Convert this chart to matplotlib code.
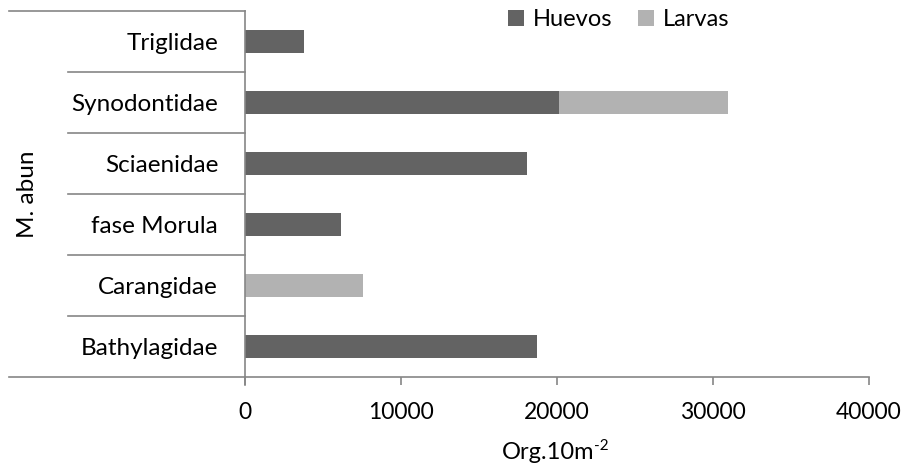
import matplotlib
matplotlib.use("Agg")
import matplotlib.pyplot as plt
from matplotlib.lines import Line2D
import numpy as np

categories = ["Bathylagidae", "Carangidae", "fase Morula", "Sciaenidae", "Synodontidae", "Triglidae"]
huevos = [18740, 0, 6160, 18100, 20150, 3800]
larvas = [0, 7570, 0, 0, 10830, 0]
xticks = [0, 10000, 20000, 30000, 40000]
group_label = "M. abun"

plt.rcParams['font.family'] = ['Lato', 'DejaVu Sans']

W, H = 905, 465
fig = plt.figure(figsize=(W / 100, H / 100), dpi=100)
x0, x1 = 244.5, 869
y_top, y_bot = 11, 377.3
ax = fig.add_axes([x0 / W, 1 - y_bot / H, (x1 - x0) / W, (y_bot - y_top) / H])

dark = "#636363"
light = "#b2b2b2"
axc = "#868686"
FS = 17.5

y = np.arange(len(categories))
ax.barh(y, huevos, height=0.38, color=dark, label="Huevos")
ax.barh(y, larvas, left=huevos, height=0.38, color=light, label="Larvas")

ax.set_xlim(0, 40000)
ax.set_ylim(-0.5, len(categories) - 0.5)
ax.set_xticks(xticks)
ax.set_xticklabels([str(v) for v in xticks], fontsize=16.5)
ax.set_yticks(y)
ax.set_yticklabels(categories, fontsize=FS)
ax.tick_params(axis='y', length=0, pad=19)
ax.tick_params(axis='x', length=5.8, width=1.2, color=axc, pad=12)

for s in ["top", "right"]:
    ax.spines[s].set_visible(False)
ax.spines["bottom"].set_visible(False)
ax.spines["left"].set_color(axc)
ax.spines["left"].set_linewidth(1.2)
ax.spines["left"].set_bounds(-0.5, len(categories) - 0.5)

def fx(px):
    return px / W

def fy(py):
    return 1 - py / H

# bottom axis line extended to the left
fig.add_artist(Line2D([fx(9), fx(x1)], [fy(y_bot), fy(y_bot)], color=axc, lw=1.2))
# left axis extension below
fig.add_artist(Line2D([fx(x0), fx(x0)], [fy(y_bot), fy(385)], color=axc, lw=1.2))
# top line
fig.add_artist(Line2D([fx(9), fx(x0)], [fy(y_top), fy(y_top)], color=axc, lw=1.2))
# category separators
step = (y_bot - y_top) / len(categories)
for i in range(1, len(categories)):
    yy = y_top + i * step
    fig.add_artist(Line2D([fx(68), fx(x0)], [fy(yy), fy(yy)], color=axc, lw=1.2))

fig.text(fx(28), fy((y_top + y_bot) / 2), group_label, rotation=90, ha='center', va='center', fontsize=FS)

# x label with a plain hyphen superscript
fig.text(fx(594), fy(452), "Org.10m", ha='right', va='center', fontsize=17)
fig.text(fx(594), fy(446), "-2", ha='left', va='center', fontsize=11)

ax.legend(loc='upper center', bbox_to_anchor=(fx(619), fy(9)), bbox_transform=fig.transFigure,
          ncol=2, frameon=False, fontsize=17, handlelength=0.65, handleheight=0.65,
          handletextpad=0.4, columnspacing=1.1, borderaxespad=0, borderpad=0)

fig.savefig("out.png", dpi=100)
